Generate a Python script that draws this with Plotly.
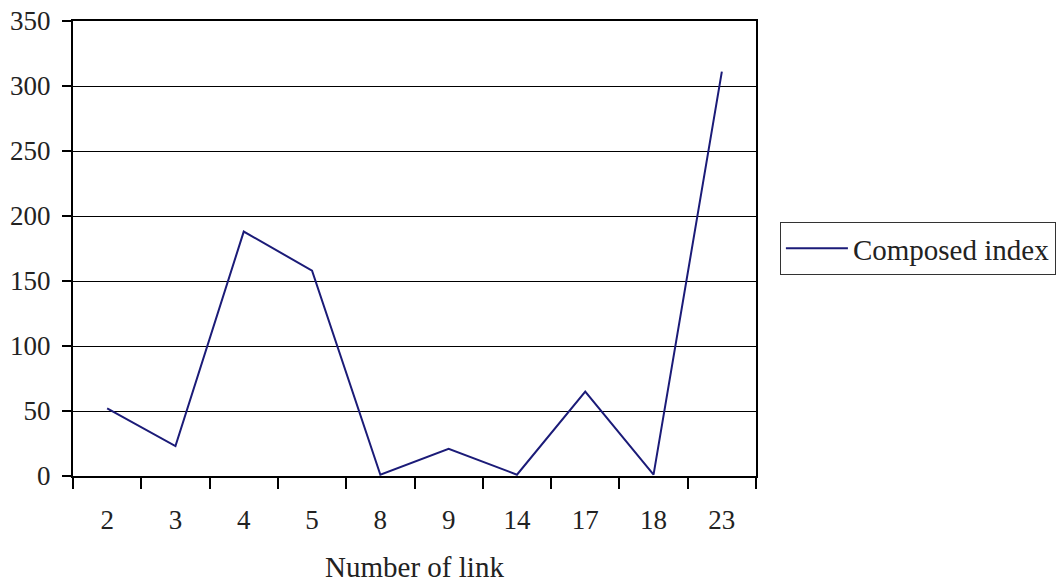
import plotly.graph_objects as go

links = ["2", "3", "4", "5", "8", "9", "14", "17", "18", "23"]
composed_index = [52, 23, 188, 158, 1, 21, 1, 65, 1, 311]
y_ticks = [0, 50, 100, 150, 200, 250, 300, 350]

FONT = "Liberation Serif, Times New Roman, serif"

fig = go.Figure()
fig.add_trace(go.Scatter(
    x=links, y=composed_index, mode="lines", name="Composed index",
    line=dict(color="#1b1b78", width=2),
))

fig.update_layout(
    width=1058, height=584,
    margin=dict(l=73, r=302, t=21, b=108, autoexpand=False),
    paper_bgcolor="white", plot_bgcolor="white",
    font=dict(family=FONT, size=27, color="#222222"),
    showlegend=True,
    legend=dict(
        x=1.035, y=0.5, xanchor="left", yanchor="middle",
        bordercolor="#333333", borderwidth=1,
        font=dict(family=FONT, size=29, color="#222222"),
        itemwidth=62,
    ),
    xaxis=dict(
        type="category", range=[-0.5, 9.5],
        tickson="boundaries", ticks="outside", ticklen=11, tickwidth=1.5,
        tickcolor="black",
        showline=True, linecolor="black", linewidth=2, mirror=True,
        showgrid=False, ticklabelstandoff=19,
        title=dict(text="Number of link", standoff=22,
                   font=dict(family=FONT, size=29, color="#222222")),
    ),
    yaxis=dict(
        range=[0, 350], tickvals=y_ticks,
        ticks="outside", ticklen=9, tickwidth=1.5, tickcolor="black",
        showline=True, linecolor="black", linewidth=2, mirror=True,
        showgrid=True, gridcolor="black", gridwidth=1,
        zeroline=False, ticklabelstandoff=6, ticklabeloverflow="allow",
    ),
)

fig.write_html(
    "out.html",
    config={"displayModeBar": False},
    post_script="document.body.style.margin='0';document.body.style.overflow='hidden';",
)
